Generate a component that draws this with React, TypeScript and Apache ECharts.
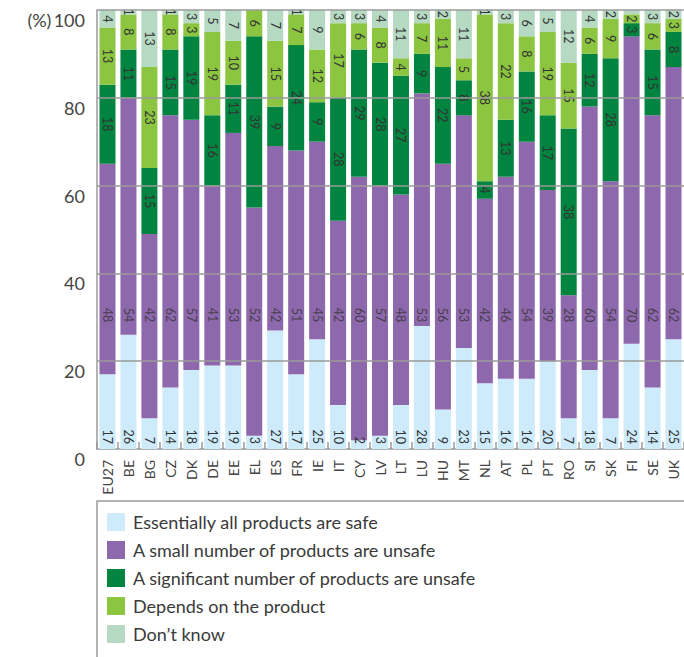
import React, { useEffect, useRef } from "react";
import * as echarts from "echarts";

const categories = ["EU27", "BE", "BG", "CZ", "DK", "DE", "EE", "EL", "ES", "FR", "IE", "IT", "CY", "LV", "LT", "LU", "HU", "MT", "NL", "AT", "PL", "PT", "RO", "SI", "SK", "FI", "SE", "UK"];
const safe = [17, 26, 7, 14, 18, 19, 19, 3, 27, 17, 25, 10, 2, 3, 10, 28, 9, 23, 15, 16, 16, 20, 7, 18, 7, 24, 14, 25];
const smallUnsafe = [48, 54, 42, 62, 57, 41, 53, 52, 42, 51, 45, 42, 60, 57, 48, 53, 56, 53, 42, 46, 54, 39, 28, 60, 54, 70, 62, 62];
const significantUnsafe = [18, 11, 15, 15, 19, 16, 11, 39, 9, 24, 9, 28, 29, 28, 27, 9, 22, 8, 4, 13, 16, 17, 38, 12, 28, 3, 15, 8];
const depends = [13, 8, 23, 8, 3, 19, 10, 6, 15, 7, 12, 17, 6, 8, 4, 7, 11, 5, 38, 22, 8, 19, 15, 6, 9, 2, 6, 3];
const dontKnow = [4, 1, 13, 1, 3, 5, 7, 0, 7, 1, 9, 3, 3, 4, 11, 3, 2, 11, 1, 3, 6, 5, 12, 4, 2, 1, 3, 2];
const unlabeledDontKnow = ["FI"];
const seriesNames = [
  "Essentially all products are safe",
  "A small number of products are unsafe",
  "A significant number of products are unsafe",
  "Depends on the product",
  "Don\u2019t know",
];
const yTicks = [20, 40, 60, 80, 100];
// the purple segment's labels sit on one common line in the original
const smallUnsafeLabelLevel = 30.5;

const FONT = "Lato, 'Noto Sans', sans-serif";
const colors = ["#cdebfa", "#8e68ac", "#00843f", "#8cc540", "#b5d9c1"];

export default function App() {
  const ref = useRef<HTMLDivElement>(null);
  useEffect(() => {
    if (!ref.current) return;
    const chart = echarts.init(ref.current, null, { renderer: "svg" });
    const labelBase = {
      show: true,
      rotate: -90,
      color: "#333",
      fontSize: 12.5,
      fontFamily: FONT,
      formatter: (p: any) => (p.value > 0 ? String(p.value) : ""),
    };
    const data = [safe, smallUnsafe, significantUnsafe, depends, dontKnow];
    const series: any[] = data.map((arr, i) => ({
      name: seriesNames[i],
      type: "bar",
      stack: "total",
      barWidth: 16,
      z: 3,
      itemStyle: { color: colors[i] },
      data:
        i === 4
          ? arr.map((v, j) =>
              unlabeledDontKnow.includes(categories[j]) ? { value: v, label: { show: false } } : v
            )
          : arr,
      label:
        i === 0
          ? { ...labelBase, position: "insideBottom", distance: 5, align: "right", verticalAlign: "middle" }
          : i === 1
          ? { show: false }
          : { ...labelBase, position: "inside", align: "center", verticalAlign: "middle" },
    }));
    series[4].markLine = {
      silent: true,
      symbol: "none",
      label: { show: false },
      lineStyle: { color: "#9a9a9a", width: 1.5, type: "solid" },
      data: yTicks.map((v) => ({ yAxis: v })),
    };
    series.push({
      name: "smallUnsafeLabels",
      type: "scatter",
      symbolSize: 0,
      silent: true,
      z: 5,
      data: categories.map((c, j) => [c, smallUnsafeLabelLevel, smallUnsafe[j]]),
      label: {
        show: true,
        position: "inside",
        rotate: -90,
        color: "#333",
        fontSize: 12.5,
        fontFamily: FONT,
        align: "center",
        verticalAlign: "middle",
        formatter: (p: any) => String(p.value[2]),
      },
    });
    chart.setOption({
      animation: false,
      grid: { left: 97, right: 0, top: 10, bottom: 208 },
      legend: {
        orient: "vertical",
        left: 107,
        top: 513,
        padding: 0,
        itemWidth: 18,
        itemHeight: 18,
        itemGap: 10,
        icon: "rect",
        selectedMode: false,
        textStyle: { fontSize: 18, color: "#3a3a3a", fontFamily: FONT, padding: [0, 0, 0, 3] },
        data: seriesNames,
      },
      xAxis: {
        type: "category",
        data: categories,
        axisLine: { lineStyle: { color: "#9a9a9a", width: 1.5 } },
        axisTick: { show: true, inside: true, length: 7, lineStyle: { color: "#9a9a9a", width: 1.5 } },
        axisLabel: { rotate: 90, margin: 11, fontSize: 14, color: "#444", fontFamily: FONT, interval: 0 },
      },
      yAxis: {
        type: "value",
        min: 0,
        max: 100,
        interval: 20,
        axisLine: { show: true, lineStyle: { color: "#9a9a9a", width: 1.5 } },
        axisTick: { show: false },
        splitLine: { show: false },
        axisLabel: {
          fontSize: 18,
          color: "#444",
          fontFamily: FONT,
          margin: 12,
          verticalAlign: "top",
          padding: [1, 0, 0, 0],
          formatter: (v: number) => (v === 100 ? "(%)\u2009100" : String(v)),
        },
      },
      graphic: [
        {
          type: "rect",
          shape: { x: 97, y: 501, width: 600, height: 200 },
          style: { fill: "none", stroke: "#9a9a9a", lineWidth: 1.5 },
          silent: true,
        },
      ],
      series,
    });
    return () => chart.dispose();
  }, []);
  return <div ref={ref} style={{ position: "fixed", left: 0, top: 0, width: 684, height: 657, background: "#fff" }} />;
}
